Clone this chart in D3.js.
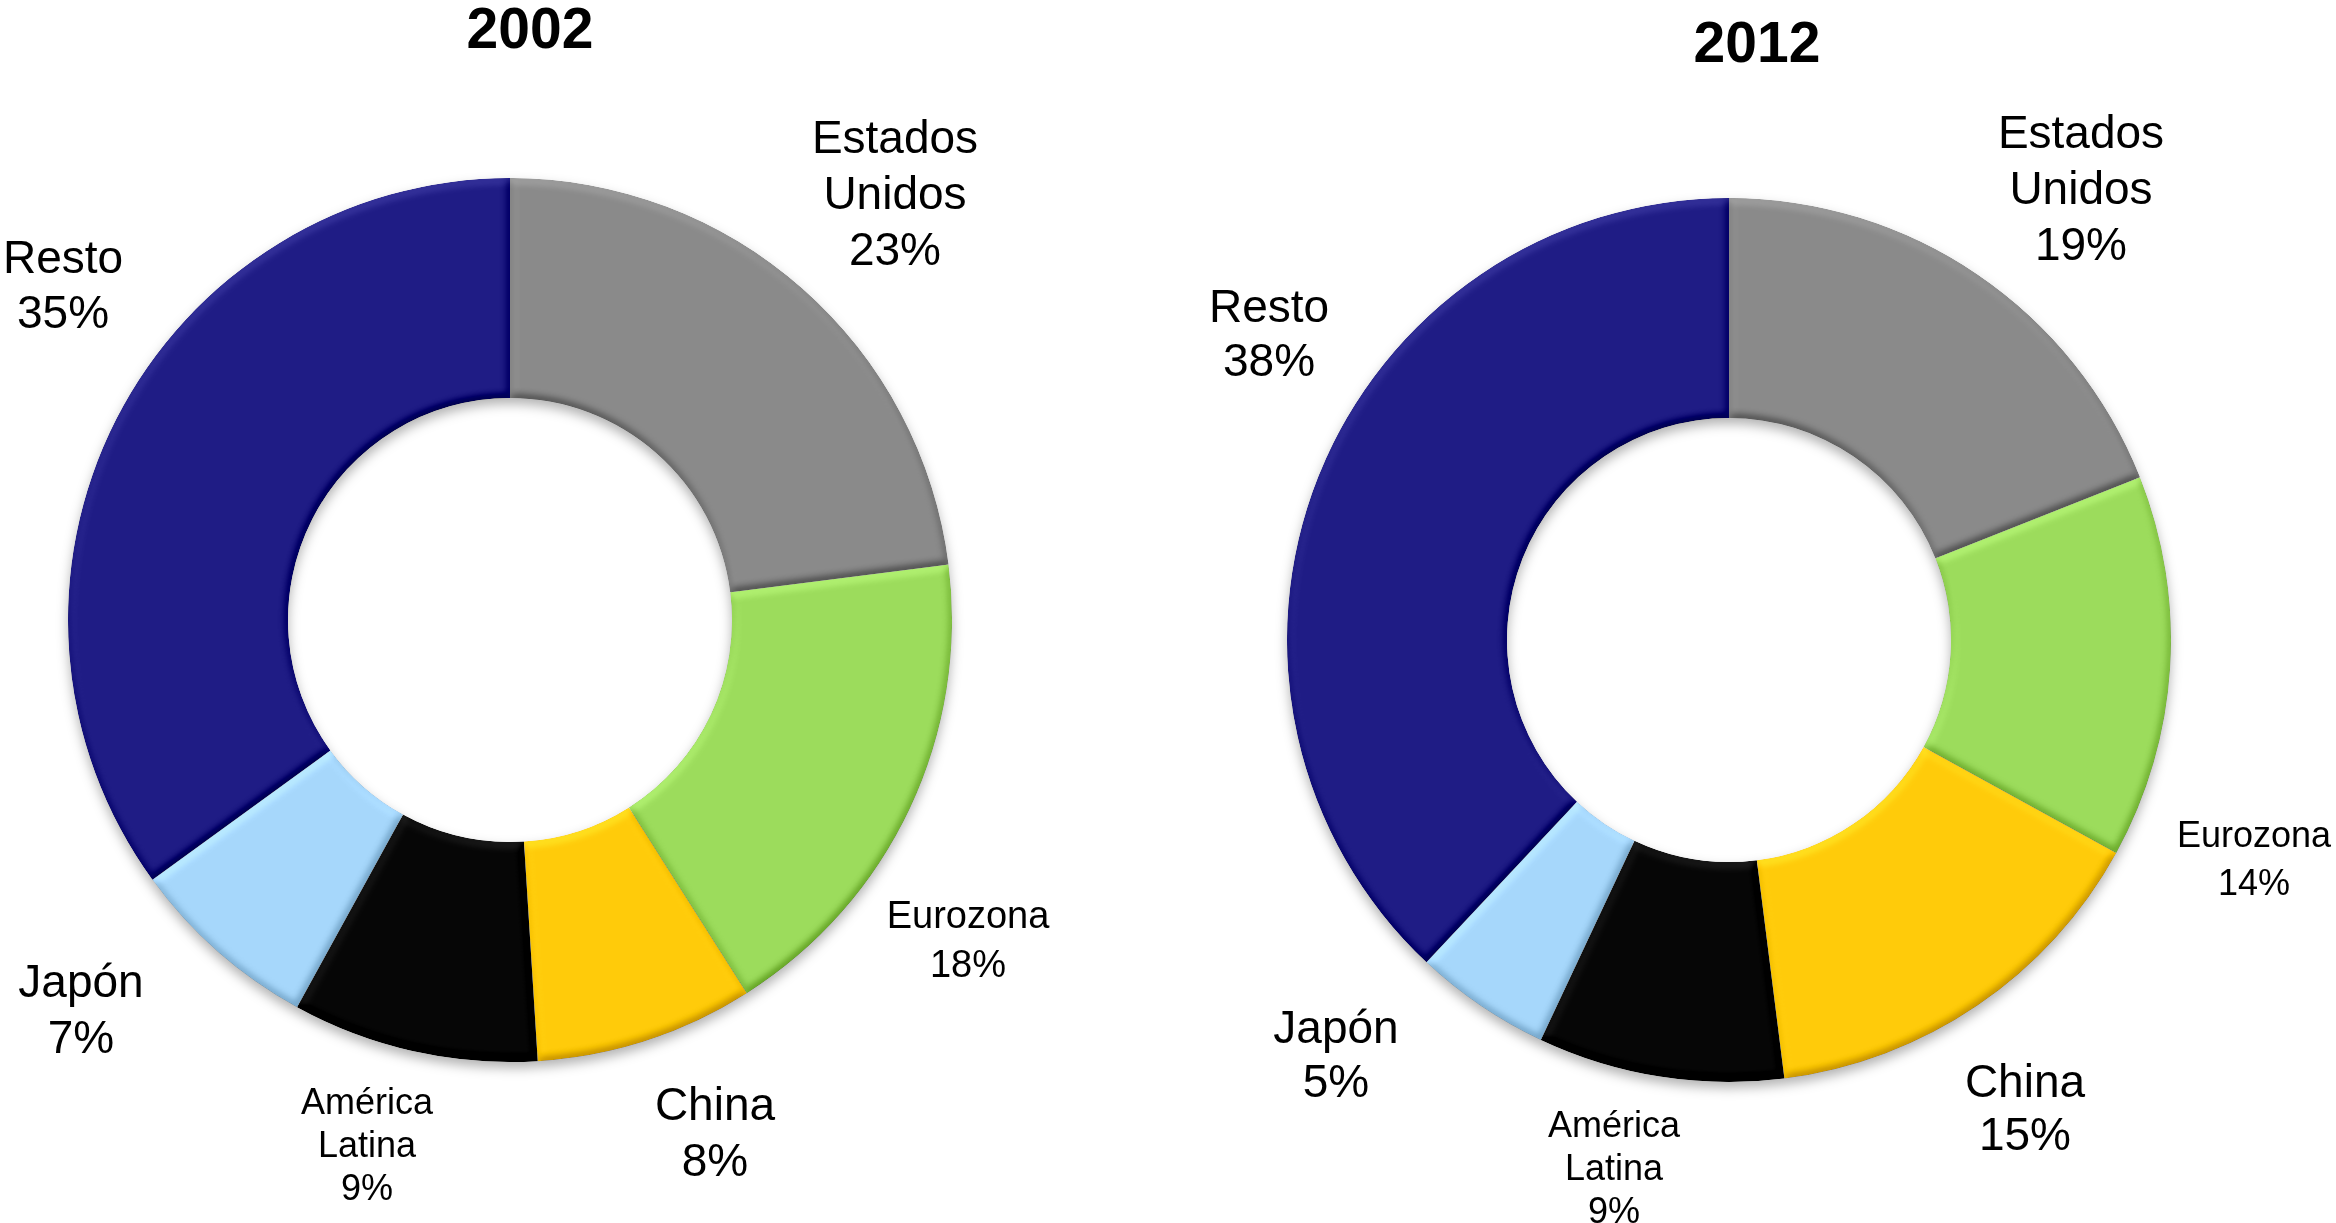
<!DOCTYPE html>
<html>
<head>
<meta charset="utf-8">
<script src="https://cdn.jsdelivr.net/npm/d3@7"></script>
<style>
  html, body { margin: 0; padding: 0; background: #fff; }
  svg { display: block; }
  text { font-family: "Liberation Sans", Arial, sans-serif; fill: #000; }
</style>
</head>
<body>
<svg id="chart" width="2336" height="1223"></svg>
<script>
// data
var categories = ["Estados Unidos", "Eurozona", "China", "América Latina", "Japón", "Resto"];
var labelLines = [["Estados", "Unidos"], ["Eurozona"], ["China"], ["América", "Latina"], ["Japón"], ["Resto"]];
var years = ["2002", "2012"];
var values2002 = [23, 18, 8, 9, 7, 35];
var values2012 = [19, 14, 15, 9, 5, 38];
var colors = ["#8a8a8a", "#9cdc5c", "#ffcb0a", "#060606", "#a6d7fb", "#1f1c85"];

// layout (offsets from each donut centre)
var panels = [
  { year: years[0], values: values2002, cx: 510, cy: 620,
    title: [20, -572],
    labels: [[385, -467, 46, 56], [458, 308, 38, 49], [205, 500, 46, 56],
             [-143, 494, 36, 43], [-429, 377, 46, 56], [-447, -347, 46, 55]] },
  { year: years[1], values: values2012, cx: 1729, cy: 640,
    title: [28, -578],
    labels: [[352, -492, 46, 56], [525, 207, 36, 48], [296, 457, 46, 53],
             [-115, 497, 36, 43], [-393, 403, 46, 54], [-460, -318, 46, 54]] }
];

var outerR = 442, innerR = 222;

var svg = d3.select("#chart");
var defs = svg.append("defs");

// soft bevel on each slice
var bevel = defs.append("filter").attr("id", "bevel")
  .attr("color-interpolation-filters", "sRGB")
  .attr("x", "-5%").attr("y", "-5%").attr("width", "110%").attr("height", "110%");
bevel.append("feGaussianBlur").attr("in", "SourceAlpha").attr("stdDeviation", 4).attr("result", "blur");
bevel.append("feDiffuseLighting").attr("in", "blur").attr("surfaceScale", 4)
  .attr("diffuseConstant", 1).attr("lighting-color", "#fff").attr("result", "light")
  .append("feDistantLight").attr("azimuth", 250).attr("elevation", 55);
// light at a flat spot is sin(55deg) = 0.819, so k4 cancels it out
bevel.append("feComposite").attr("in", "SourceGraphic").attr("in2", "light")
  .attr("operator", "arithmetic").attr("k1", 0).attr("k2", 1).attr("k3", 0.4).attr("k4", -0.328)
  .attr("result", "lit");
bevel.append("feComposite").attr("in", "lit").attr("in2", "SourceAlpha").attr("operator", "in");

// drop shadow under the ring
var shadow = defs.append("filter").attr("id", "shadow")
  .attr("color-interpolation-filters", "sRGB")
  .attr("x", "-10%").attr("y", "-10%").attr("width", "120%").attr("height", "120%");
shadow.append("feDropShadow").attr("dx", 0).attr("dy", 6).attr("stdDeviation", 6)
  .attr("flood-color", "#000").attr("flood-opacity", 0.3);

var pie = d3.pie().sort(null).value(function(d) { return d; });
var arc = d3.arc().innerRadius(innerR).outerRadius(outerR);

panels.forEach(function(p) {
  var g = svg.append("g").attr("transform", "translate(" + p.cx + "," + p.cy + ")");

  g.append("text")
    .attr("x", p.title[0]).attr("y", p.title[1])
    .attr("text-anchor", "middle")
    .style("font-size", "57px").style("font-weight", "bold")
    .text(p.year);

  var ring = g.append("g").attr("filter", "url(#shadow)");
  ring.selectAll("path")
    .data(pie(p.values))
    .enter().append("path")
      .attr("d", arc)
      .attr("fill", function(d, i) { return colors[i]; })
      .attr("filter", "url(#bevel)");

  p.values.forEach(function(v, i) {
    var l = p.labels[i];
    var t = g.append("text")
      .attr("text-anchor", "middle")
      .style("font-size", l[2] + "px");
    var lines = labelLines[i].concat([v + "%"]);
    lines.forEach(function(s, j) {
      t.append("tspan").attr("x", l[0]).attr("y", l[1] + j * l[3]).text(s);
    });
  });
});
</script>
</body>
</html>
